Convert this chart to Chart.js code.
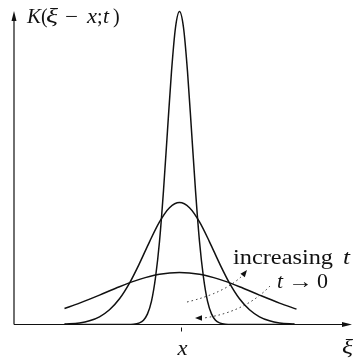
<!DOCTYPE html>
<html>
<head>
<meta charset="utf-8">
<script src="https://cdn.jsdelivr.net/npm/chart.js@4/dist/chart.umd.min.js"></script>
<style>
html, body { margin: 0; background: #fff; }
#wrap { width: 353px; height: 362px; }
</style>
</head>
<body>
<div id="wrap"><canvas id="kernelChart"></canvas></div>
<script>
// ξ positions measured from x (the centre of every kernel), and kernel heights
const xiNarrow = [-115, -60, -46, -40, -36, -32, -28, -24, -20, -16, -12, -8, -4, 0, 4, 8, 12, 16, 20, 24, 28, 32, 36, 40, 46, 60, 115];
const kNarrow = [0, 0, 0.3, 1.6, 4.3, 10.6, 23.4, 47, 83, 134, 194, 253, 297, 313, 297, 253, 194, 134, 83, 47, 23.4, 10.6, 4.3, 1.6, 0.3, 0, 0];

const xiMedium = [-115, -100, -90, -80, -70, -60, -50, -40, -30, -20, -10, 0, 10, 20, 30, 40, 50, 60, 70, 80, 90, 100, 115];
const kMedium = [0.4, 1.6, 3.7, 7.7, 14.7, 25.7, 41.4, 61.1, 82.7, 102.6, 116.8, 122, 116.8, 102.6, 82.7, 61.1, 41.4, 25.7, 14.7, 7.7, 3.7, 1.6, 0.4];

const xiWide = [-115, -100, -80, -60, -40, -20, 0, 20, 40, 60, 80, 100, 117];
const kWide = [16, 21.4, 29.4, 37.8, 45.1, 50.2, 52, 50.2, 45.1, 37.8, 29.4, 21.4, 15.4];

const xTicks = [2];
const xTickLabels = ['x'];

const pts = (xs, ys) => xs.map((x, i) => ({x: x, y: ys[i]}));
const INK = '#111';
const SERIF = '"Liberation Serif", "DejaVu Serif", serif';

function curve(data) {
    return {
        data: data,
        borderColor: INK,
        borderWidth: 1.5,
        pointRadius: 0,
        fill: false,
        cubicInterpolationMode: 'monotone'
    };
}

// draw a row of text pieces, each [text, italic, left x, width or null]
function drawRun(ctx, pieces, y, size) {
    pieces.forEach(p => {
        ctx.font = (p[1] ? 'italic ' : '') + size + 'px ' + SERIF;
        const w = ctx.measureText(p[0]).width;
        ctx.save();
        ctx.translate(p[2], y);
        if (p[3]) ctx.scale(p[3] / w, 1);
        ctx.fillText(p[0], 0, 0);
        ctx.restore();
    });
}

function arrowHead(ctx, fromX, fromY, tipX, tipY, len, half) {
    const a = Math.atan2(tipY - fromY, tipX - fromX);
    ctx.beginPath();
    ctx.moveTo(tipX, tipY);
    ctx.lineTo(tipX - len * Math.cos(a) + half * Math.sin(a), tipY - len * Math.sin(a) - half * Math.cos(a));
    ctx.lineTo(tipX - len * Math.cos(a) - half * Math.sin(a), tipY - len * Math.sin(a) + half * Math.cos(a));
    ctx.closePath();
    ctx.fill();
}

// dotted pointer: start, control, end, tip  (in data units)
function pointer(ctx, sx, sy, p) {
    const q = p.map(v => [sx.getPixelForValue(v[0]), sy.getPixelForValue(v[1])]);
    ctx.save();
    ctx.strokeStyle = '#222';
    ctx.lineWidth = 1;
    ctx.setLineDash([1.5, 3]);
    ctx.beginPath();
    ctx.moveTo(q[0][0], q[0][1]);
    ctx.quadraticCurveTo(q[1][0], q[1][1], q[2][0], q[2][1]);
    ctx.stroke();
    ctx.restore();
    ctx.fillStyle = INK;
    arrowHead(ctx, q[2][0], q[2][1], q[3][0], q[3][1], 7, 2.8);
}

const axesPlugin = {
    id: 'axesPlugin',
    beforeDatasetsDraw(chart) {
        const {ctx, chartArea: a, scales: {x, y}} = chart;
        const y0 = y.getPixelForValue(0);
        ctx.save();
        ctx.strokeStyle = INK;
        ctx.fillStyle = INK;
        ctx.lineWidth = 1.2;
        ctx.beginPath();
        ctx.moveTo(a.left, y0);
        ctx.lineTo(a.left, a.top + 10);
        ctx.moveTo(a.left, y0);
        ctx.lineTo(a.right - 6, y0);
        ctx.stroke();
        arrowHead(ctx, a.left, a.top + 20, a.left, a.top + 3, 10, 2.5);
        arrowHead(ctx, a.right - 10, y0, a.right + 2, y0, 10, 2.5);
        ctx.lineWidth = 1;
        xTicks.forEach(v => {
            const px = x.getPixelForValue(v);
            ctx.beginPath();
            ctx.moveTo(px, y0 + 3);
            ctx.lineTo(px, y0 + 7);
            ctx.stroke();
        });
        ctx.restore();
    },
    afterDraw(chart) {
        const {ctx, chartArea: a, scales: {x, y}} = chart;
        ctx.save();
        ctx.fillStyle = INK;
        ctx.textBaseline = 'alphabetic';
        // y axis title
        drawRun(ctx, [['K', true, 27, 14], ['(', false, 41, null], ['ξ', true, 46, 12],
                      ['−', false, 65, 13], ['x', true, 87, 10], [';', false, 97, null],
                      ['t', true, 103, 6], [')', false, 113, null]], 23, 20);
        // x axis: tick label and ξ
        xTicks.forEach((v, i) => {
            drawRun(ctx, [[xTickLabels[i], true, x.getPixelForValue(v) - 4, 10]], 355, 20);
        });
        drawRun(ctx, [['ξ', true, 342, 11]], 354, 20);
        // annotations
        drawRun(ctx, [['increasing', false, 233, 100], ['t', true, 343, 7]], 264, 20);
        drawRun(ctx, [['t', true, 277, 6], ['→', false, 288, 25], ['0', false, 317, 11]], 288, 20);
        pointer(ctx, x, y, [[7.5, 22.5], [45.5, 31.5], [63.5, 49.5], [67.5, 54.5]]);
        pointer(ctx, x, y, [[90.5, 38.5], [65.5, 12.5], [24.5, 6.5], [15.5, 6.5]]);
        ctx.restore();
    }
};

new Chart(document.getElementById('kernelChart'), {
    type: 'line',
    data: {
        datasets: [
            curve(pts(xiNarrow, kNarrow)),
            curve(pts(xiMedium, kMedium)),
            curve(pts(xiWide, kWide))
        ]
    },
    options: {
        responsive: true,
        maintainAspectRatio: false,
        animation: false,
        events: [],
        layout: { padding: { left: 14, right: 3, top: 8, bottom: 37.5 } },
        scales: {
            x: { type: 'linear', min: -165.5, max: 170.5, display: false },
            y: { min: 0, max: 316.5, display: false }
        },
        plugins: { legend: { display: false }, tooltip: { enabled: false } }
    },
    plugins: [axesPlugin]
});
</script>
</body>
</html>
